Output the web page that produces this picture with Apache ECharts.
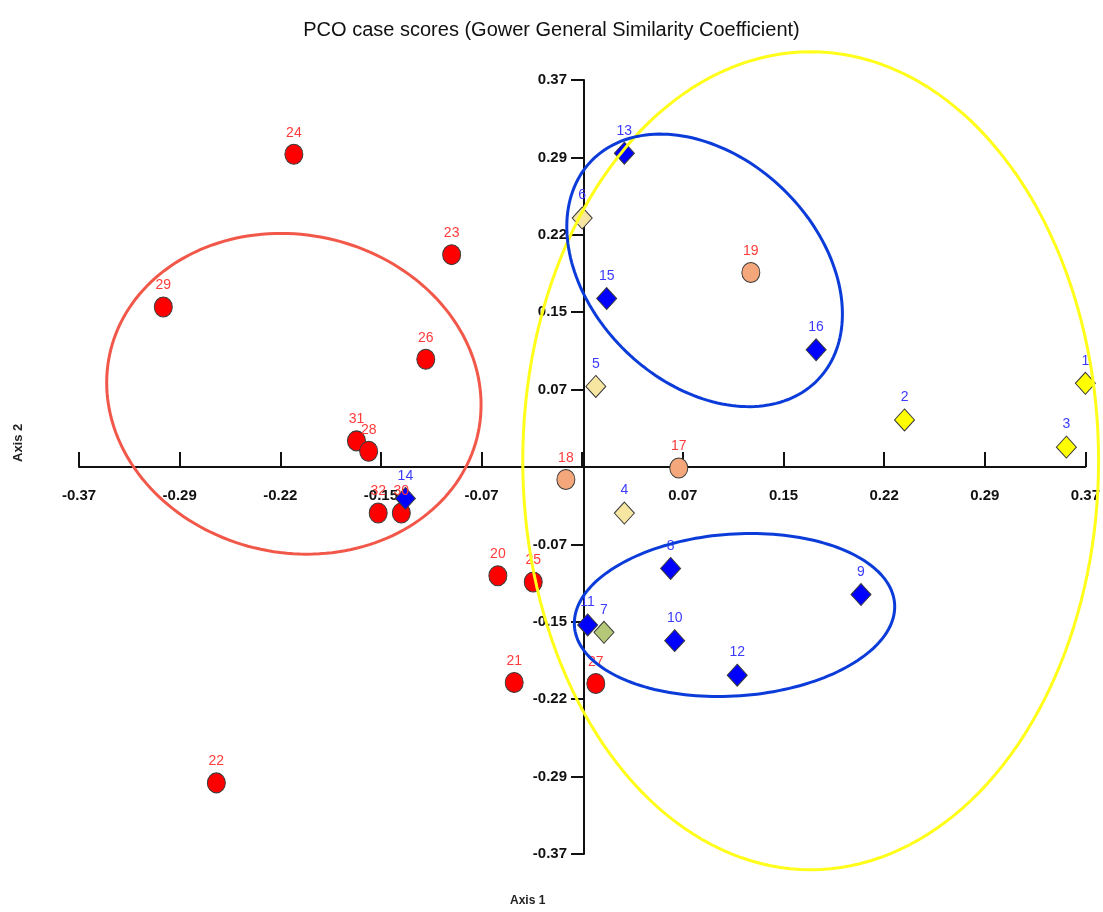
<!DOCTYPE html>
<html>
<head>
<meta charset="utf-8">
<script src="https://cdn.jsdelivr.net/npm/echarts@6/dist/echarts.min.js"></script>
<style>html,body{margin:0;padding:0;background:#fff;}#c{width:1103px;height:912px;}</style>
</head>
<body>
<div id="c"></div>
<script>
// Tick labels (axis from -0.37 to 0.37 in 10 equal steps)
const tickLabels = ['-0.37','-0.29','-0.22','-0.15','-0.07','','0.07','0.15','0.22','0.29','0.37'];

// Red circles
const redLabels = ['24','23','29','26','31','28','32','30','20','25','21','27','22'];
const redX = [-0.212,-0.096,-0.308,-0.115,-0.166,-0.157,-0.150,-0.133,-0.062,-0.036,-0.050,0.010,-0.269];
const redY = [0.299,0.203,0.153,0.103,0.025,0.015,-0.044,-0.044,-0.104,-0.110,-0.206,-0.207,-0.302];

// Orange circles
const orangeLabels = ['19','18','17'];
const orangeX = [0.124,-0.012,0.071];
const orangeY = [0.186,-0.012,-0.001];

// Blue diamonds
const blueLabels = ['13','15','16','14','8','9','11','10','12'];
const blueX = [0.031,0.018,0.172,-0.130,0.065,0.205,0.004,0.068,0.114];
const blueY = [0.300,0.161,0.112,-0.030,-0.097,-0.122,-0.151,-0.166,-0.199];

// Pale yellow diamonds
const paleLabels = ['6','5','4'];
const paleX = [0.000,0.010,0.031];
const paleY = [0.238,0.077,-0.044];

// Yellow diamonds
const yellowLabels = ['1','2','3'];
const yellowX = [0.370,0.237,0.356];
const yellowY = [0.080,0.045,0.019];

// Green diamond
const greenLabels = ['7'];
const greenX = [0.016];
const greenY = [-0.158];

// Group ellipses (centre, radii in axis units, rotation in degrees)
const ellCX = [-0.212, 0.168, 0.090, 0.112];
const ellCY = [0.070, 0.006, 0.188, -0.1415];
const ellRX = [0.1385, 0.2117, 0.1158, 0.118];
const ellRY = [0.152, 0.391, 0.108, 0.0774];
const ellAng = [12, 0, 44, -4];
const ellColors = ['#f2584a', '#ffff1a', '#0b3cd9', '#0b3cd9'];

function pts(xs, ys, ls) { return xs.map((x, i) => [x, ys[i], ls[i]]); }

const FONT = 'Liberation Sans, Arial, sans-serif';

function scatter(name, data, symbol, size, color, labelColor) {
  return {
    name: name, type: 'scatter', data: data, symbol: symbol, symbolSize: size,
    clip: false, z: 3,
    itemStyle: { color: color, borderColor: '#3a3a3a', borderWidth: 1, opacity: 1 },
    label: { show: true, position: 'top', distance: 4, formatter: p => p.value[2],
             color: labelColor, fontSize: 14, fontFamily: FONT },
    emphasis: { disabled: true }
  };
}

const chart = echarts.init(document.getElementById('c'), null, { renderer: 'canvas' });
const option = {
  animation: false,
  backgroundColor: '#fff',
  title: {
    text: 'PCO case scores (Gower General Similarity Coefficient)',
    left: 'center', top: 15,
    textStyle: { fontSize: 20, fontWeight: 'normal', color: '#111', fontFamily: FONT }
  },
  grid: { left: 79, right: 14, top: 80, bottom: 58, containLabel: false },
  xAxis: {
    type: 'value', min: -0.37, max: 0.37, interval: 0.074, position: 'bottom', offset: -387,
    axisLine: { onZero: false, lineStyle: { color: '#111', width: 2 } },
    axisTick: { show: true, inside: true, length: 15, lineStyle: { color: '#111', width: 2 } },
    splitLine: { show: false },
    axisLabel: { margin: 21, color: '#111', fontSize: 15, fontWeight: 'bold', fontFamily: FONT,
      formatter: v => tickLabels[Math.round(v / 0.074) + 5] || '' }
  },
  yAxis: {
    type: 'value', min: -0.37, max: 0.37, interval: 0.074, position: 'left', offset: -505,
    axisLine: { onZero: false, lineStyle: { color: '#111', width: 2 } },
    axisTick: { show: true, inside: false, length: 13, lineStyle: { color: '#111', width: 2 } },
    splitLine: { show: false },
    axisLabel: { margin: 17, color: '#111', fontSize: 15, fontWeight: 'bold', fontFamily: FONT,
      formatter: v => tickLabels[Math.round(v / 0.074) + 5] || '' }
  },
  graphic: [
    { type: 'text', left: 510, top: 895, style: { text: 'Axis 1', fontSize: 12, fontWeight: 'bold', fill: '#222', fontFamily: FONT } },
    { type: 'text', x: 12, y: 462, rotation: Math.PI / 2, style: { text: 'Axis 2', fontSize: 13, fontWeight: 'bold', fill: '#222', fontFamily: FONT } }
  ],
  series: [
    scatter('red', pts(redX, redY, redLabels), 'circle', [18, 20], '#ff0000', '#ff3b3b'),
    scatter('orange', pts(orangeX, orangeY, orangeLabels), 'circle', [18, 20], '#f4a77a', '#ff3b3b'),
    scatter('blue', pts(blueX, blueY, blueLabels), 'diamond', [20, 22], '#0000ff', '#3b3bff'),
    scatter('pale', pts(paleX, paleY, paleLabels), 'diamond', [20, 22], '#f7e6a1', '#3b3bff'),
    scatter('yellow', pts(yellowX, yellowY, yellowLabels), 'diamond', [20, 22], '#ffff00', '#3b3bff'),
    scatter('green', pts(greenX, greenY, greenLabels), 'diamond', [20, 22], '#b5c878', '#3b3bff'),
    {
      type: 'custom', z: 5, clip: false, silent: true,
      data: ellCX.map((cx, i) => [cx, ellCY[i], ellRX[i], ellRY[i], ellAng[i]]),
      encode: { x: 0, y: 1 },
      renderItem: function (params, api) {
        const i = params.dataIndex;
        const c = api.coord([api.value(0), api.value(1)]);
        const s = api.size([api.value(2), api.value(3)]);
        const a = api.value(4) * Math.PI / 180;
        const p = [];
        for (let k = 0; k < 180; k++) {
          const t = k / 180 * 2 * Math.PI;
          const ex = s[0] * Math.cos(t), ey = s[1] * Math.sin(t);
          p.push([c[0] + ex * Math.cos(a) - ey * Math.sin(a), c[1] + ex * Math.sin(a) + ey * Math.cos(a)]);
        }
        return { type: 'polygon', shape: { points: p }, style: { fill: 'none', stroke: ellColors[i], lineWidth: 3 } };
      }
    }
  ]
};
chart.setOption(option);
</script>
</body>
</html>
